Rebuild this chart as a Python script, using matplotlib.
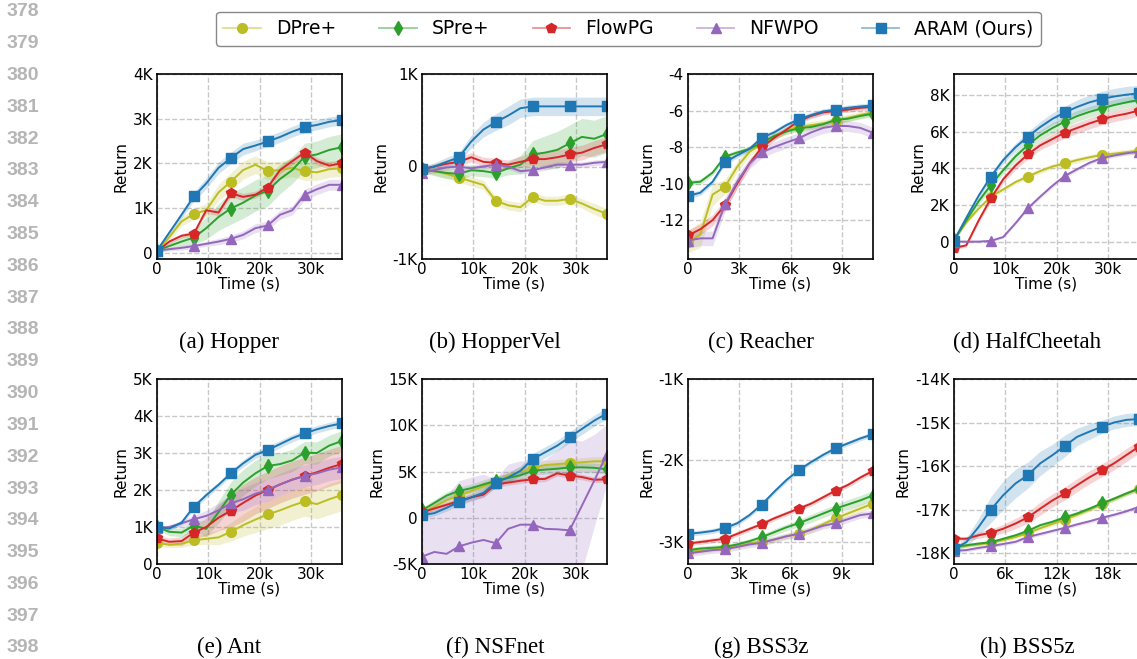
import numpy as np
import matplotlib
matplotlib.use("Agg")
import matplotlib.pyplot as plt
from matplotlib.lines import Line2D
from matplotlib.legend_handler import HandlerTuple
from matplotlib.ticker import FuncFormatter

plt.rcParams['axes.unicode_minus'] = False
plt.rcParams['font.family'] = ['DejaVu Sans']

# --- Datos ---
methods = ["DPre+", "SPre+", "FlowPG", "NFWPO", "ARAM (Ours)"]
colors = ["#bcbd22", "#2ca02c", "#d62728", "#9467bd", "#1f77b4"]
markers = ["o", "d", "p", "^", "s"]
msizes = [7, 7, 7, 7, 7]

envs = ["Hopper", "HopperVel", "Reacher", "HalfCheetah", "Ant", "NSFnet", "BSS3z", "BSS5z"]
letters = ["a", "b", "c", "d", "e", "f", "g", "h"]
t_max = [36000, 36000, 10800, 36000, 36000, 36000, 10800, 21600]
x_ticks = [[0, 10000, 20000, 30000]] * 2 + [[0, 3000, 6000, 9000]] + [[0, 10000, 20000, 30000]] * 3 \
    + [[0, 3000, 6000, 9000], [0, 6000, 12000, 18000]]
y_ticks = [[0, 1, 2, 3, 4], [-1, 0, 1], [-12, -10, -8, -6, -4], [0, 2, 4, 6, 8],
           [0, 1, 2, 3, 4, 5], [-5, 0, 5, 10, 15], [-3, -2, -1], [-18, -17, -16, -15, -14]]
y_lims = [(-0.14, 4), (-1, 1), (-14.13, -4), (-0.95, 9.15), (0, 5), (-5, 15), (-3.27, -1), (-18.25, -14)]
y_suffix = ["K", "K", "", "K", "K", "K", "K", "K"]

# medias (en miles salvo Reacher), orden: DPre+, SPre+, FlowPG, NFWPO, ARAM
hopper_mean = [
    [0.03, 0.35, 0.7, 0.87, 0.95, 1.35, 1.59, 1.85, 1.97, 1.83, 1.85, 1.9, 1.82, 1.8, 1.87, 1.89],
    [0.05, 0.15, 0.25, 0.34, 0.55, 0.8, 0.99, 1.12, 1.28, 1.39, 1.65, 1.85, 2.15, 2.2, 2.3, 2.36],
    [0.03, 0.25, 0.38, 0.43, 0.95, 0.9, 1.33, 1.25, 1.3, 1.46, 1.85, 2.05, 2.24, 2.05, 1.95, 2.0],
    [0.05, 0.08, 0.11, 0.15, 0.2, 0.25, 0.31, 0.4, 0.55, 0.61, 0.85, 0.95, 1.3, 1.42, 1.52, 1.52],
    [0.05, 0.45, 0.85, 1.26, 1.55, 1.9, 2.12, 2.32, 2.4, 2.49, 2.59, 2.71, 2.81, 2.86, 2.93, 2.97],
]
hopper_sd = [
    [0.05, 0.08, 0.1, 0.12, 0.15, 0.18, 0.2, 0.2, 0.2, 0.2, 0.2, 0.2, 0.2, 0.18, 0.18, 0.18],
    [0.05, 0.08, 0.1, 0.15, 0.25, 0.3, 0.35, 0.35, 0.35, 0.35, 0.33, 0.3, 0.3, 0.3, 0.3, 0.3],
    [0.03, 0.05, 0.05, 0.06, 0.07, 0.07, 0.08, 0.08, 0.08, 0.08, 0.08, 0.08, 0.08, 0.08, 0.08, 0.08],
    [0.03, 0.04, 0.05, 0.05, 0.06, 0.07, 0.08, 0.09, 0.1, 0.1, 0.1, 0.1, 0.12, 0.12, 0.12, 0.12],
    [0.05, 0.06, 0.08, 0.1, 0.12, 0.13, 0.13, 0.13, 0.12, 0.12, 0.12, 0.12, 0.12, 0.11, 0.11, 0.11],
]

hoppervel_mean = [
    [-0.02, -0.05, -0.08, -0.12, -0.16, -0.2, -0.37, -0.42, -0.44, -0.33, -0.37, -0.37, -0.35, -0.4, -0.46, -0.51],
    [-0.03, -0.05, -0.07, -0.08, -0.04, -0.05, -0.07, -0.02, 0.02, 0.13, 0.15, 0.18, 0.25, 0.32, 0.3, 0.35],
    [-0.03, 0.0, 0.03, 0.05, 0.1, 0.05, 0.04, 0.02, 0.05, 0.08, 0.08, 0.1, 0.13, 0.15, 0.2, 0.24],
    [-0.07, -0.04, -0.01, 0.0, -0.02, 0.0, 0.02, 0.0, -0.05, -0.04, -0.01, 0.02, 0.02, 0.02, 0.04, 0.05],
    [-0.03, 0.0, 0.05, 0.1, 0.27, 0.4, 0.48, 0.55, 0.63, 0.65, 0.65, 0.65, 0.65, 0.65, 0.65, 0.65],
]
hoppervel_sd = [
    [0.03, 0.04, 0.05, 0.05, 0.05, 0.05, 0.05, 0.05, 0.05, 0.05, 0.05, 0.05, 0.05, 0.05, 0.06, 0.06],
    [0.03, 0.05, 0.06, 0.06, 0.06, 0.06, 0.06, 0.07, 0.1, 0.15, 0.18, 0.2, 0.2, 0.2, 0.2, 0.2],
    [0.03, 0.03, 0.04, 0.05, 0.05, 0.05, 0.05, 0.05, 0.06, 0.07, 0.08, 0.08, 0.08, 0.08, 0.08, 0.08],
    [0.03, 0.03, 0.03, 0.03, 0.03, 0.03, 0.03, 0.03, 0.03, 0.03, 0.03, 0.03, 0.03, 0.03, 0.03, 0.03],
    [0.03, 0.04, 0.05, 0.05, 0.07, 0.08, 0.09, 0.1, 0.1, 0.1, 0.1, 0.1, 0.1, 0.1, 0.1, 0.1],
]

reacher_mean = [
    [-13.2, -12.8, -10.6, -10.18, -9.08, -8.26, -7.8, -7.4, -7.1, -6.9, -6.8, -6.7, -6.6, -6.4, -6.25, -6.1],
    [-9.96, -9.9, -9.4, -8.53, -8.3, -8.1, -7.76, -7.4, -7.15, -6.97, -6.9, -6.75, -6.51, -6.45, -6.3, -6.18],
    [-12.84, -12.5, -12.0, -11.19, -10.0, -8.9, -8.02, -7.5, -7.05, -6.57, -6.3, -6.1, -6.02, -5.95, -5.85, -5.8],
    [-13.12, -13.0, -13.0, -11.14, -9.9, -8.9, -8.29, -8.0, -7.75, -7.52, -7.2, -6.95, -6.84, -6.85, -6.95, -7.21],
    [-10.68, -10.5, -9.9, -8.84, -8.45, -8.1, -7.49, -7.2, -6.8, -6.48, -6.25, -6.05, -5.96, -5.85, -5.78, -5.72],
]
reacher_sd = [
    [0.6, 0.7, 0.6, 0.4, 0.3, 0.25, 0.2, 0.2, 0.2, 0.2, 0.2, 0.2, 0.2, 0.2, 0.2, 0.2],
    [0.15, 0.15, 0.15, 0.15, 0.15, 0.15, 0.15, 0.15, 0.15, 0.15, 0.15, 0.15, 0.15, 0.15, 0.15, 0.15],
    [0.3, 0.3, 0.3, 0.3, 0.25, 0.2, 0.2, 0.15, 0.15, 0.15, 0.15, 0.15, 0.15, 0.15, 0.15, 0.15],
    [0.4, 0.4, 0.4, 0.4, 0.35, 0.3, 0.3, 0.3, 0.3, 0.3, 0.3, 0.3, 0.3, 0.3, 0.3, 0.3],
    [0.15, 0.15, 0.15, 0.15, 0.15, 0.15, 0.15, 0.15, 0.15, 0.15, 0.15, 0.15, 0.15, 0.15, 0.15, 0.15],
]

halfcheetah_mean = [
    [0.09, 1.05, 1.8, 2.45, 2.85, 3.25, 3.55, 3.85, 4.1, 4.27, 4.45, 4.6, 4.73, 4.8, 4.88, 4.96],
    [0.09, 1.15, 2.2, 3.09, 3.9, 4.65, 5.27, 5.8, 6.2, 6.55, 6.85, 7.08, 7.27, 7.45, 7.6, 7.73],
    [-0.36, -0.2, 1.15, 2.36, 3.4, 4.15, 4.76, 5.25, 5.6, 5.95, 6.2, 6.45, 6.67, 6.85, 6.98, 7.15],
    [0.0, 0.0, 0.0, 0.04, 0.25, 1.0, 1.82, 2.45, 3.05, 3.58, 3.95, 4.3, 4.55, 4.7, 4.82, 4.9],
    [0.05, 1.3, 2.5, 3.55, 4.45, 5.15, 5.73, 6.25, 6.7, 7.05, 7.35, 7.6, 7.78, 7.92, 8.02, 8.09],
]
halfcheetah_sd = [
    [0.05, 0.08, 0.1, 0.12, 0.12, 0.12, 0.13, 0.13, 0.14, 0.14, 0.15, 0.15, 0.15, 0.15, 0.15, 0.15],
    [0.1, 0.15, 0.2, 0.2, 0.22, 0.25, 0.25, 0.28, 0.3, 0.3, 0.3, 0.3, 0.3, 0.3, 0.3, 0.3],
    [0.1, 0.1, 0.15, 0.2, 0.2, 0.22, 0.25, 0.25, 0.28, 0.3, 0.3, 0.3, 0.3, 0.3, 0.3, 0.3],
    [0.05, 0.05, 0.05, 0.05, 0.06, 0.08, 0.1, 0.1, 0.1, 0.1, 0.1, 0.1, 0.1, 0.1, 0.1, 0.1],
    [0.1, 0.12, 0.15, 0.18, 0.2, 0.22, 0.25, 0.3, 0.32, 0.35, 0.38, 0.4, 0.42, 0.44, 0.45, 0.45],
]

ant_mean = [
    [0.57, 0.52, 0.55, 0.64, 0.68, 0.72, 0.87, 1.05, 1.2, 1.34, 1.45, 1.58, 1.69, 1.62, 1.75, 1.86],
    [1.0, 0.87, 0.85, 1.04, 0.95, 1.4, 1.87, 2.2, 2.45, 2.65, 2.7, 2.8, 3.01, 3.0, 3.2, 3.32],
    [0.69, 0.6, 0.62, 0.85, 1.0, 1.25, 1.44, 1.65, 1.85, 2.0, 2.15, 2.28, 2.38, 2.48, 2.6, 2.7],
    [0.96, 1.0, 1.1, 1.21, 1.3, 1.45, 1.64, 1.75, 1.9, 2.0, 2.15, 2.28, 2.38, 2.45, 2.55, 2.61],
    [1.01, 0.96, 1.12, 1.55, 1.86, 2.14, 2.45, 2.72, 2.95, 3.08, 3.24, 3.4, 3.53, 3.64, 3.73, 3.8],
]
ant_sd = [
    [0.08, 0.08, 0.1, 0.12, 0.15, 0.2, 0.25, 0.3, 0.35, 0.38, 0.4, 0.4, 0.4, 0.4, 0.42, 0.42],
    [0.08, 0.1, 0.12, 0.15, 0.2, 0.3, 0.35, 0.35, 0.35, 0.35, 0.3, 0.3, 0.3, 0.3, 0.28, 0.28],
    [0.08, 0.1, 0.12, 0.15, 0.25, 0.35, 0.45, 0.5, 0.5, 0.5, 0.5, 0.5, 0.5, 0.5, 0.5, 0.5],
    [0.05, 0.06, 0.08, 0.1, 0.15, 0.2, 0.25, 0.3, 0.3, 0.3, 0.3, 0.3, 0.3, 0.3, 0.3, 0.3],
    [0.05, 0.05, 0.06, 0.07, 0.08, 0.08, 0.08, 0.1, 0.1, 0.1, 0.1, 0.1, 0.1, 0.1, 0.1, 0.1],
]

nsfnet_mean = [
    [0.5, 1.2, 1.9, 2.4, 2.9, 3.4, 3.9, 4.5, 5.0, 5.4, 5.7, 5.8, 5.9, 6.0, 6.1, 6.1],
    [0.8, 1.6, 2.4, 2.9, 3.2, 3.6, 4.0, 4.3, 4.6, 5.07, 5.2, 5.3, 5.44, 5.45, 5.4, 5.25],
    [0.6, 1.0, 1.4, 1.8, 2.2, 2.5, 3.6, 3.8, 4.0, 4.16, 4.2, 4.8, 4.56, 4.4, 4.1, 4.16],
    [-4.2, -3.7, -3.9, -3.1, -2.7, -2.4, -2.75, -1.2, -0.75, -0.75, -1.2, -1.25, -1.36, 1.3, 4.0, 6.8],
    [0.27, 0.5, 1.07, 1.73, 2.2, 2.7, 3.8, 4.35, 5.07, 6.35, 7.07, 7.8, 8.71, 9.6, 10.5, 11.25],
]
nsfnet_sd = [
    [0.3, 0.35, 0.4, 0.4, 0.45, 0.5, 0.5, 0.5, 0.5, 0.5, 0.5, 0.5, 0.5, 0.5, 0.5, 0.5],
    [0.3, 0.35, 0.4, 0.4, 0.45, 0.5, 0.5, 0.5, 0.5, 0.5, 0.5, 0.5, 0.5, 0.5, 0.5, 0.5],
    [0.2, 0.25, 0.3, 0.3, 0.3, 0.3, 0.3, 0.3, 0.3, 0.3, 0.3, 0.3, 0.3, 0.3, 0.3, 0.3],
    [4.8, 5.5, 6.3, 7.1, 7.1, 7.1, 7.0, 7.0, 6.9, 6.9, 7.5, 8.5, 9.9, 7.0, 5.0, 3.3],
    [0.3, 0.3, 0.35, 0.4, 0.4, 0.45, 0.5, 0.5, 0.55, 0.6, 0.6, 0.6, 0.6, 0.6, 0.6, 0.6],
]

bss3z_mean = [
    [-3.12, -3.11, -3.09, -3.07, -3.05, -3.02, -3.0, -2.97, -2.93, -2.9, -2.85, -2.78, -2.71, -2.65, -2.59, -2.53],
    [-3.1, -3.08, -3.07, -3.06, -3.03, -2.99, -2.94, -2.88, -2.82, -2.77, -2.71, -2.65, -2.59, -2.54, -2.49, -2.43],
    [-3.02, -3.0, -2.98, -2.96, -2.9, -2.84, -2.78, -2.71, -2.65, -2.59, -2.53, -2.45, -2.37, -2.3, -2.21, -2.13],
    [-3.14, -3.12, -3.1, -3.09, -3.06, -3.03, -3.01, -2.97, -2.93, -2.9, -2.85, -2.8, -2.77, -2.72, -2.67, -2.65],
    [-2.9, -2.885, -2.865, -2.83, -2.77, -2.67, -2.54, -2.385, -2.24, -2.12, -2.02, -1.93, -1.85, -1.79, -1.73, -1.68],
]
bss3z_sd = [
    [0.03, 0.03, 0.03, 0.03, 0.03, 0.03, 0.03, 0.03, 0.03, 0.04, 0.04, 0.04, 0.04, 0.05, 0.05, 0.05],
    [0.03, 0.03, 0.03, 0.03, 0.03, 0.03, 0.03, 0.04, 0.04, 0.04, 0.05, 0.05, 0.05, 0.06, 0.06, 0.06],
    [0.03, 0.03, 0.03, 0.03, 0.03, 0.03, 0.03, 0.03, 0.03, 0.03, 0.03, 0.03, 0.03, 0.03, 0.03, 0.03],
    [0.04, 0.04, 0.04, 0.04, 0.04, 0.04, 0.04, 0.04, 0.04, 0.04, 0.04, 0.04, 0.04, 0.04, 0.04, 0.04],
    [0.03, 0.03, 0.03, 0.03, 0.03, 0.03, 0.03, 0.03, 0.03, 0.03, 0.03, 0.03, 0.03, 0.03, 0.03, 0.03],
]

bss5z_mean = [
    [-17.86, -17.83, -17.8, -17.76, -17.7, -17.63, -17.54, -17.43, -17.33, -17.23, -17.12, -17.0, -16.88, -16.76, -16.64, -16.53],
    [-17.86, -17.82, -17.78, -17.75, -17.67, -17.59, -17.49, -17.36, -17.28, -17.18, -17.09, -16.98, -16.86, -16.75, -16.63, -16.52],
    [-17.67, -17.67, -17.59, -17.53, -17.44, -17.32, -17.18, -16.98, -16.79, -16.63, -16.44, -16.26, -16.1, -15.94, -15.75, -15.56],
    [-17.95, -17.93, -17.88, -17.84, -17.79, -17.74, -17.63, -17.56, -17.49, -17.42, -17.34, -17.27, -17.19, -17.12, -17.04, -16.94],
    [-17.9, -17.75, -17.4, -17.0, -16.67, -16.4, -16.21, -15.94, -15.75, -15.54, -15.33, -15.21, -15.1, -15.0, -14.94, -14.92],
]
bss5z_sd = [
    [0.04, 0.04, 0.04, 0.04, 0.04, 0.04, 0.05, 0.05, 0.05, 0.05, 0.05, 0.05, 0.05, 0.05, 0.05, 0.05],
    [0.04, 0.04, 0.04, 0.04, 0.04, 0.04, 0.05, 0.05, 0.05, 0.05, 0.05, 0.05, 0.05, 0.05, 0.05, 0.05],
    [0.05, 0.05, 0.07, 0.08, 0.1, 0.12, 0.13, 0.15, 0.15, 0.15, 0.15, 0.15, 0.15, 0.15, 0.15, 0.15],
    [0.04, 0.04, 0.04, 0.04, 0.04, 0.04, 0.04, 0.04, 0.04, 0.04, 0.04, 0.04, 0.04, 0.04, 0.04, 0.04],
    [0.05, 0.1, 0.2, 0.3, 0.33, 0.33, 0.3, 0.28, 0.25, 0.25, 0.2, 0.18, 0.15, 0.15, 0.15, 0.15],
]

all_mean = [hopper_mean, hoppervel_mean, reacher_mean, halfcheetah_mean,
            ant_mean, nsfnet_mean, bss3z_mean, bss5z_mean]
all_sd = [hopper_sd, hoppervel_sd, reacher_sd, halfcheetah_sd,
          ant_sd, nsfnet_sd, bss3z_sd, bss5z_sd]

line_numbers = list(range(378, 399))

# --- Figura ---
W, H = 1137, 659
fig = plt.figure(figsize=(W / 100, H / 100), dpi=100)

col_left = [157, 422, 688, 954]
row_top = [74, 379]
ax_w, ax_h = 184.5, 185
cap_x = [229, 495, 761, 1027]
cap_y = [342, 647]


def fmt_k(suffix):
    def f(v, pos):
        if abs(v) < 1e-9:
            return "0"
        return f"{v:g}{suffix}"
    return f


def fmt_time(v, pos):
    if abs(v) < 1e-9:
        return "0"
    return f"{v / 1000:g}k"


for i, env in enumerate(envs):
    r, c = divmod(i, 4)
    left = col_left[c] / W
    bottom = 1 - (row_top[r] + ax_h) / H
    ax = fig.add_axes([left, bottom, ax_w / W, ax_h / H])
    n = len(all_mean[i][0])
    t = np.linspace(0, t_max[i], n)
    for k in range(len(methods)):
        m = np.array(all_mean[i][k])
        s = np.array(all_sd[i][k])
        ax.fill_between(t, m - s, m + s, color=colors[k], alpha=0.2, lw=0)
        ax.plot(t, m, color=colors[k], lw=1.4, marker=markers[k], ms=msizes[k],
                markevery=3)
    ax.set_xlim(0, t_max[i])
    ax.set_ylim(*y_lims[i])
    ax.set_xticks(x_ticks[i])
    ax.set_yticks(y_ticks[i])
    ax.xaxis.set_major_formatter(FuncFormatter(fmt_time))
    ax.yaxis.set_major_formatter(FuncFormatter(fmt_k(y_suffix[i])))
    ax.tick_params(length=0, labelsize=11, pad=3)
    ax.tick_params(axis='x', pad=2)
    ax.grid(True, ls='--', color='#c8c8c8', lw=1)
    ax.set_axisbelow(True)
    for sp in ax.spines.values():
        sp.set_linewidth(1.2)
    ax.set_xlabel("Time (s)", fontsize=11, labelpad=0)
    ax.set_ylabel("Return", fontsize=11, labelpad=3)
    fig.text(cap_x[c] / W, 1 - cap_y[r] / H, f"({letters[i]}) {env}",
             ha='center', va='center', family='Liberation Serif', fontsize=16.5)

# numeros de linea
for j, num in enumerate(line_numbers):
    y = 12 + j * 31.8
    fig.text(7 / W, 1 - y / H, str(num), ha='left', va='center',
             family='Liberation Sans', fontweight='bold', color='#b5b5b5', fontsize=14)

# leyenda
handles = []
for k in range(len(methods)):
    ln = Line2D([], [], color=colors[k], lw=1.3, alpha=0.5)
    mk = Line2D([], [], color=colors[k], marker=markers[k], ms=msizes[k], ls='none')
    handles.append((ln, mk))
fig.legend(handles, methods, handler_map={tuple: HandlerTuple(ndivide=1)},
           loc='center', bbox_to_anchor=(628.5 / W, 1 - 28.7 / H), ncol=5,
           fontsize=13.5, columnspacing=2.3, frameon=True, edgecolor='#888888',
           framealpha=1)

fig.savefig("out.png", dpi=100)
